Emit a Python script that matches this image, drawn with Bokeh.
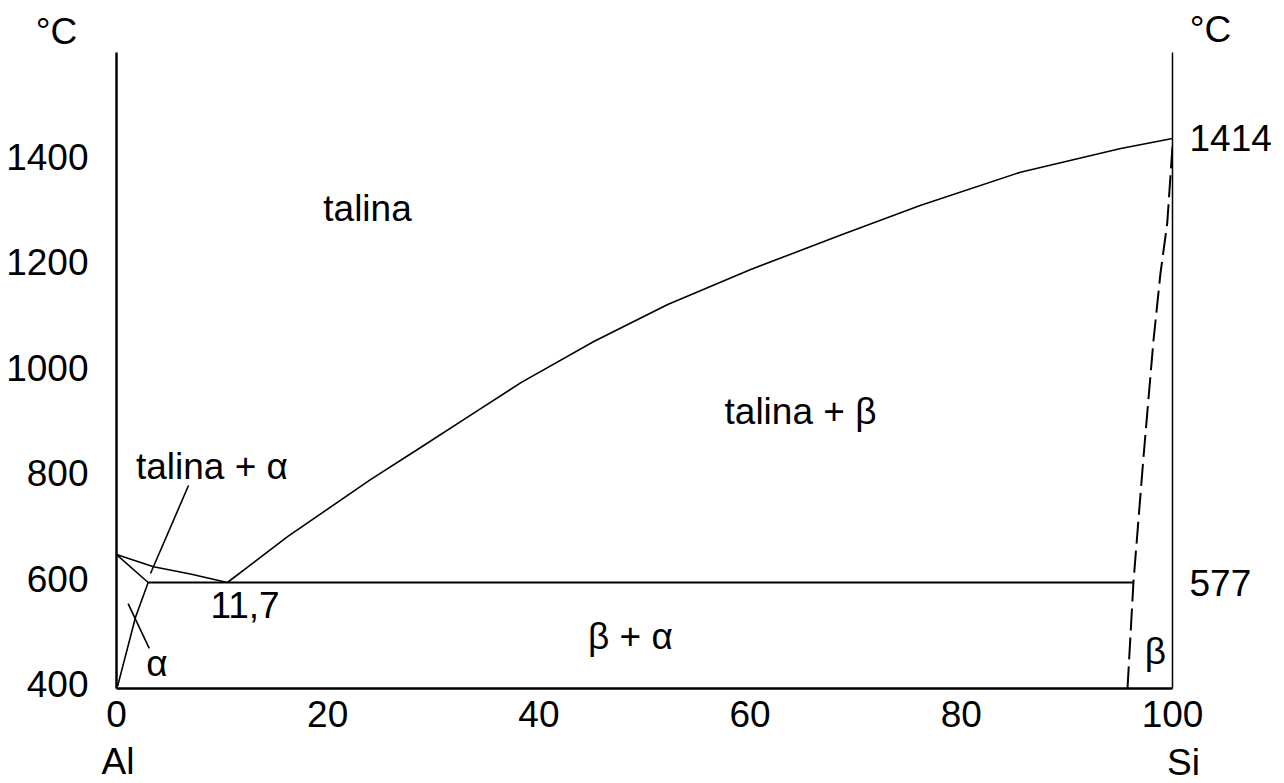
from bokeh.plotting import figure
from bokeh.layouts import column
from bokeh.models import Range1d, LinearAxis, FixedTicker, ColumnDataSource
from bokeh.embed import file_html
from bokeh.resources import INLINE
from bokeh.core.properties import value

# ---- axes / ticks ----
x_ticks = [0, 20, 40, 60, 80, 100]
T_ticks = [400, 600, 800, 1000, 1200, 1400]
right_ticks = [593, 1435]
right_tick_labels = ["577", "1414"]

# ---- phase boundaries (x = wt% Si, T = deg C) ----
liq_al_x = [0, 3.5, 7.0, 10.5]
liq_al_T = [646, 623, 609, 593]

solidus_x = [0, 3.0]
solidus_T = [646, 593]

solvus_x = [3.0, 1.8, 0.1]
solvus_T = [593, 527, 396]

eut_x = [3.0, 96.3]
eut_T = [593, 593]

liq_si_x = [10.5, 16.2, 24.05, 28.8, 33.5, 38.3, 45.2, 52.2, 60.0, 68.6, 76.1, 85.6, 95.1, 100]
liq_si_T = [593, 680, 788, 849, 910, 972, 1050, 1120, 1186, 1252, 1308, 1371, 1416, 1435]

si_solvus_x = [100, 99.5, 98.86, 98.2, 97.25, 96.3, 95.74]
si_solvus_T = [1420, 1274, 1179, 1052, 830, 593, 392]

ptr_alpha_x = [1.1, 3.1]
ptr_alpha_T = [553, 468]
ptr_la_x = [6.82, 3.22]
ptr_la_T = [777, 610]

# ---- region labels ----
region_text = ["talina", "talina + β", "talina + α", "β + α", "β", "α", "11,7"]
region_x = [23.77, 64.77, 9.04, 48.67, 98.39, 3.84, 12.17]
region_T = [1302, 917, 813, 491, 462, 440, 549.5]

# labels above / below the plotting frame
unit_text = ["°C", "°C"]
unit_x = [-5.68, 103.6]
unit_T = [1638, 1641]
elem_text = ["Al", "Si"]
elem_x = [0.14, 101.04]
elem_T = [254.5, 252.6]

FONT = "Liberation Sans"
FS = "37px"

# ---- layout geometry (pixels) ----
W = 1280
H = 782
LEFT, RIGHT = 116, 108
TOP_H = 52          # strip above the frame
FRAME_H = 636
BOTTOM_AX = 54      # room for the x tick labels
BOT_H = H - TOP_H - FRAME_H - BOTTOM_AX

X0, X1 = 0, 100
T0, T1 = 392, 1598
px_x = (W - LEFT - RIGHT) / (X1 - X0)
px_T = FRAME_H / (T1 - T0)

strip_x_range = (X0 - LEFT / px_x, X1 + RIGHT / px_x)


def strip(height, t_lo, t_hi):
    f = figure(width=W, height=height, title=None,
               x_range=Range1d(*strip_x_range), y_range=Range1d(t_lo, t_hi),
               x_axis_location=None, y_axis_location=None,
               output_backend="svg", toolbar_location=None,
               min_border_left=0, min_border_right=0,
               min_border_top=0, min_border_bottom=0)
    f.outline_line_color = None
    f.grid.visible = False
    try:
        f.frame_align = False
    except AttributeError:
        pass
    return f


top = strip(TOP_H, T1, T1 + TOP_H / px_T)
top.text(x=unit_x, y=unit_T, text=unit_text, text_font=value(FONT),
         text_font_size=FS, text_color="black",
         text_align="center", text_baseline="middle")

bot_hi = T0 - BOTTOM_AX / px_T
bot = strip(BOT_H, bot_hi - BOT_H / px_T, bot_hi)
bot.text(x=elem_x, y=elem_T, text=elem_text, text_font=value(FONT),
         text_font_size=FS, text_color="black",
         text_align="center", text_baseline="middle")

p = figure(width=W, height=FRAME_H + BOTTOM_AX, title=None,
           x_range=Range1d(X0, X1), y_range=Range1d(T0, T1),
           output_backend="svg", toolbar_location=None,
           min_border_left=LEFT, min_border_right=RIGHT,
           min_border_top=0, min_border_bottom=BOTTOM_AX)
p.outline_line_color = None
p.grid.visible = False
try:
    p.frame_align = False
except AttributeError:
    pass


def style_axis(ax, lw, standoff):
    ax.axis_line_color = "black"
    ax.axis_line_width = lw
    ax.major_tick_out = 0
    ax.major_tick_in = 0
    ax.minor_tick_out = 0
    ax.minor_tick_in = 0
    ax.major_label_text_font = FONT
    ax.major_label_text_font_size = FS
    ax.major_label_text_color = "black"
    ax.major_label_standoff = standoff


xa = p.xaxis[0]
xa.ticker = FixedTicker(ticks=x_ticks)
style_axis(xa, 2.5, 12)

ya = p.yaxis[0]
ya.ticker = FixedTicker(ticks=T_ticks)
style_axis(ya, 2.5, 28)

ra = LinearAxis(ticker=FixedTicker(ticks=right_ticks),
                major_label_overrides=dict(zip(right_ticks, right_tick_labels)))
style_axis(ra, 1.5, 17)
p.add_layout(ra, "right")

# ---- curves ----
p.line(liq_al_x, liq_al_T, line_color="black", line_width=1.6)
p.line(solidus_x, solidus_T, line_color="black", line_width=1.6)
p.line(solvus_x, solvus_T, line_color="black", line_width=1.6)
p.line(eut_x, eut_T, line_color="black", line_width=2.2)
p.line(liq_si_x, liq_si_T, line_color="black", line_width=1.6)
p.line(si_solvus_x, si_solvus_T, line_color="black", line_width=2, line_dash="22 7")
p.line(ptr_alpha_x, ptr_alpha_T, line_color="black", line_width=1.6)
p.line(ptr_la_x, ptr_la_T, line_color="black", line_width=1.6)

src = ColumnDataSource(dict(x=region_x, y=region_T, t=region_text))
p.text(x="x", y="y", text="t", source=src, text_font=value(FONT),
       text_font_size=FS, text_color="black",
       text_align="center", text_baseline="middle")

layout = column(top, p, bot, spacing=0)

open("out.html", "w").write(file_html(layout, INLINE))
